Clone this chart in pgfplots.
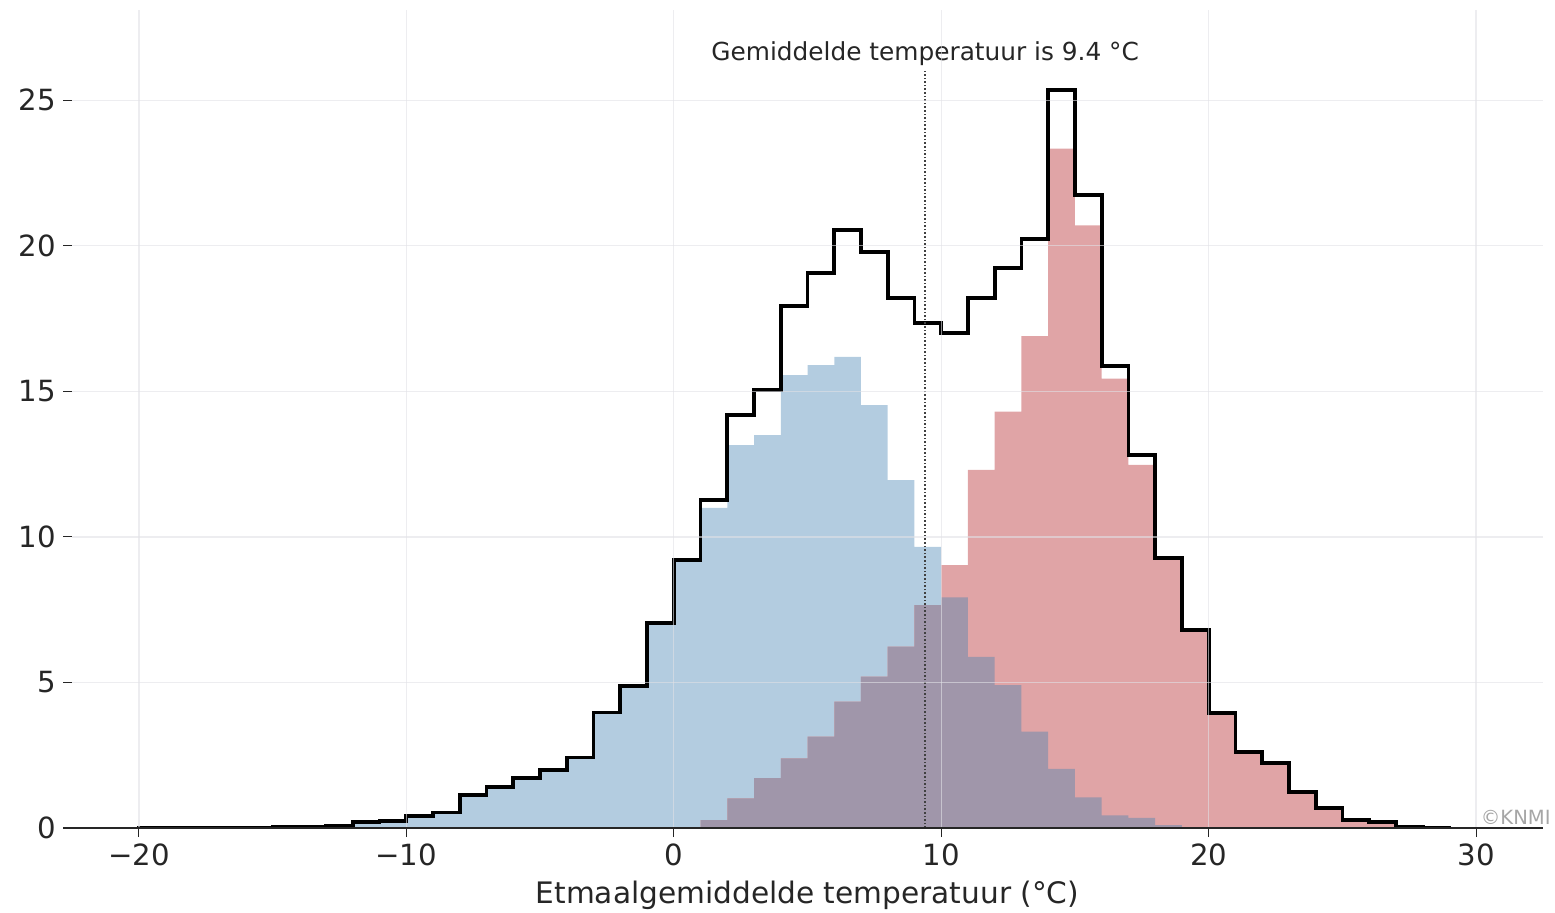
\documentclass[border=0pt]{standalone}
\usepackage{fontspec}
\setmainfont{DejaVu Sans}
\usepackage{pgfplots}
\pgfplotsset{compat=1.18}
\definecolor{cblue}{RGB}{179,204,224}
\definecolor{cred}{RGB}{224,164,166}
\definecolor{cpurp}{RGB}{160,150,170}
\definecolor{txt}{RGB}{38,38,38}
\definecolor{gridc}{RGB}{225,225,230}
\begin{document}
\begin{tikzpicture}
\begin{axis}[
  scale only axis, width=735.5pt, height=409pt,
  xmin=-22.5, xmax=32.5, ymin=0, ymax=28.1,
  axis on top, clip=false,
  axis x line*=bottom, axis y line*=left,
  y axis line style={draw=none},
  x axis line style={line width=1pt, color=txt, -},
  xtick={-20,-10,0,10,20,30},
  xticklabels={−20,−10,0,10,20,30},
  ytick={0,5,10,15,20,25},
  yticklabels={0,5,10,15,20,25},
  tick align=outside, major tick length=4.5pt,
  tick style={line width=0.6pt, color=txt},
  grid=major, grid style={color=gridc, line width=0.7pt, opacity=0.6},
  tick label style={font=\fontsize{14.6}{16}\selectfont, text=txt},
  xlabel={Etmaalgemiddelde temperatuur (°C)},
  xlabel style={font=\fontsize{14.8}{16}\selectfont, text=txt, at={(axis description cs:0.5,-0.0825)}, anchor=center},
]
% blue (cold) histogram
\addplot[fill=cblue, draw=none, const plot] coordinates {
(-20,0.02) (-19,0.02) (-18,0.02) (-17,0.02) (-16,0.02) (-15,0.03) (-14,0.05) (-13,0.08)
(-12,0.2) (-11,0.25) (-10,0.41) (-9,0.53) (-8,1.13) (-7,1.42) (-6,1.71) (-5,2.0)
(-4,2.42) (-3,3.97) (-2,4.88) (-1,7.04) (0,9.2) (1,11.0) (2,13.15) (3,13.5)
(4,15.56) (5,15.9) (6,16.18) (7,14.53) (8,11.95) (9,9.66) (10,7.92) (11,5.88)
(12,4.91) (13,3.31) (14,2.03) (15,1.05) (16,0.43) (17,0.35) (18,0.1) (19,0.03) (20,0)
} \closedcycle;
% red (warm) histogram
\addplot[fill=cred, draw=none, const plot] coordinates {
(1,0.27) (2,1.02) (3,1.71) (4,2.39) (5,3.14) (6,4.34) (7,5.2) (8,6.23) (9,7.66)
(10,9.03) (11,12.3) (12,14.3) (13,16.9) (14,23.34) (15,20.7) (16,15.44) (17,12.47)
(18,9.2) (19,6.78) (20,3.94) (21,2.62) (22,2.22) (23,1.25) (24,0.68) (25,0.28)
(26,0.2) (27,0.03) (28,0)
} \closedcycle;
% overlap
\addplot[fill=cpurp, draw=none, const plot] coordinates {
(1,0.27) (2,1.02) (3,1.71) (4,2.39) (5,3.14) (6,4.34) (7,5.2) (8,6.23) (9,7.66)
(10,7.92) (11,5.88) (12,4.91) (13,3.31) (14,2.03) (15,1.05) (16,0.43) (17,0.35)
(18,0.1) (19,0.03) (20,0)
} \closedcycle;
% total step outline
\addplot[black, line width=1.9pt, const plot, line join=miter] coordinates {
(-20,0) (-20,0.02) (-19,0.02) (-18,0.02) (-17,0.02) (-16,0.02) (-15,0.03) (-14,0.05) (-13,0.08)
(-12,0.2) (-11,0.25) (-10,0.41) (-9,0.53) (-8,1.13) (-7,1.42) (-6,1.71) (-5,2.0)
(-4,2.42) (-3,3.97) (-2,4.88) (-1,7.04) (0,9.2) (1,11.26) (2,14.2) (3,15.04)
(4,17.93) (5,19.06) (6,20.54) (7,19.78) (8,18.2) (9,17.34) (10,17.0) (11,18.2)
(12,19.23) (13,20.23) (14,25.34) (15,21.74) (16,15.87) (17,12.8) (18,9.27) (19,6.8)
(20,3.94) (21,2.62) (22,2.22) (23,1.25) (24,0.68) (25,0.28) (26,0.2) (27,0.04)
(28,0.02) (29,0.02) (29,0)
};
% mean line
\addplot[densely dotted, line width=0.8pt, color=black!75] coordinates {(9.4,0) (9.4,26)};
\node[font=\fontsize{12.4}{14}\selectfont, text=txt] at (axis cs:9.4,26.6) {Gemiddelde temperatuur is 9.4 °C};
\node[font=\fontsize{9.8}{11}\selectfont, text=black!35, anchor=south east, inner sep=0pt] at (axis cs:32.8,0.1) {©KNMI};
\coordinate (bl) at (rel axis cs:-0.04895,-0.10269);
\coordinate (tr) at (rel axis cs:1.00816,1.01222);
\end{axis}
\pgfresetboundingbox
\path[use as bounding box] (bl) rectangle (tr);
\end{tikzpicture}
\end{document}
